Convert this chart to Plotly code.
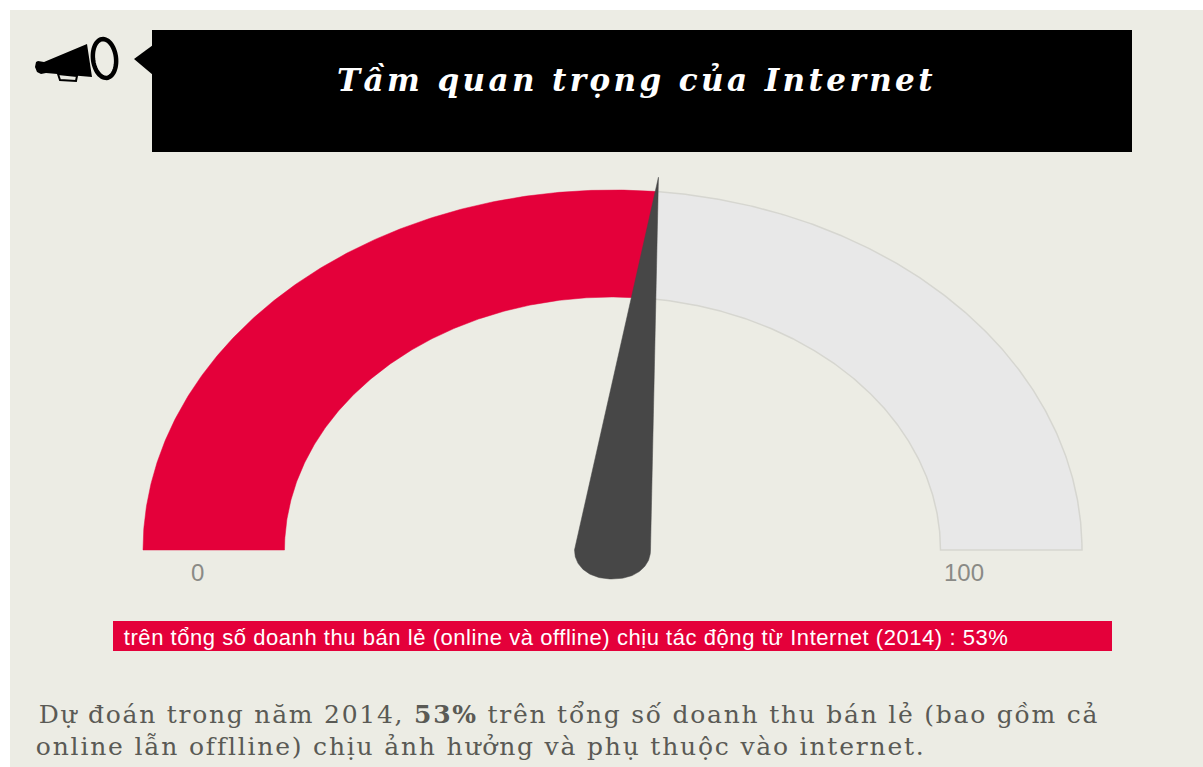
import json
import numpy as np
import plotly.graph_objects as go

W, H = 1203, 767

# ---- data ----
gauge_min = 0
gauge_max = 100
gauge_value = 53
tick_labels = ["0", "100"]
title_text = "Tầm quan trọng của Internet"
bar_text = "trên tổng số doanh thu bán lẻ (online và offline) chịu tác động từ Internet (2014) : 53%"
body_line_1 = "Dự đoán trong năm 2014, <b>53%</b> trên tổng số doanh thu bán lẻ (bao gồm cả"
body_line_2 = "online lẫn offlline) chịu ảnh hưởng và phụ thuộc vào internet."

# ---- geometry / style ----
PANEL = "#ECECE4"
RED = "#E4003A"
GREY = "#E8E8E8"
NEEDLE = "#474747"
CX, CY = 612.5, 550.0
RX, RY = 469.5, 360.0
INNER_X, INNER_Y = 328.0 / 469.5, 253.0 / 360.0


def px(x):
    return x / W


def py(y):
    return 1 - y / H


def angle(v):
    return np.pi * (1 - (v - gauge_min) / (gauge_max - gauge_min))


def band(v0, v1):
    t = np.linspace(angle(v0), angle(v1), 240)
    x = np.concatenate([np.cos(t), INNER_X * np.cos(t[::-1])])
    y = np.concatenate([np.sin(t), INNER_Y * np.sin(t[::-1])])
    return np.append(x, x[0]), np.append(y, y[0])


def needle(v):
    a = angle(v)
    t = np.linspace(np.pi, 2 * np.pi, 80)
    cx = np.sign(np.cos(t)) * np.abs(np.cos(t)) ** 0.92
    cy = np.sign(np.sin(t)) * np.abs(np.sin(t)) ** 0.95
    x = np.concatenate([38 / RX * cx, [1.04 * np.cos(a)]])
    y = np.concatenate([29 / RY * cy, [1.04 * np.sin(a)]])
    return np.append(x, x[0]), np.append(y, y[0])


fig = go.Figure()
x, y = band(gauge_value, gauge_max)
fig.add_trace(go.Scatter(x=x, y=y, mode="lines", fill="toself", fillcolor=GREY,
                         line=dict(color="#D6D6D0", width=1.5), hoverinfo="skip"))
x, y = band(gauge_min, gauge_value)
fig.add_trace(go.Scatter(x=x, y=y, mode="lines", fill="toself", fillcolor=RED,
                         line=dict(color=RED, width=0.5), hoverinfo="skip"))
x, y = needle(gauge_value)
fig.add_trace(go.Scatter(x=x, y=y, mode="lines", fill="toself", fillcolor=NEEDLE,
                         line=dict(color=NEEDLE, width=0.5), hoverinfo="skip"))


def poly(points, fill="black", line=None, width=0):
    d = "M " + " L ".join(f"{px(a):.5f},{py(b):.5f}" for a, b in points) + " Z"
    return dict(type="path", xref="paper", yref="paper", path=d, fillcolor=fill,
                line=dict(color=line or fill, width=width), layer="above")


def rect(x0, y0, x1, y1, fill):
    return dict(type="rect", xref="paper", yref="paper", x0=px(x0), x1=px(x1),
                y0=py(y0), y1=py(y1), fillcolor=fill, line=dict(width=0), layer="below")


def ell(cx, cy, rx, ry, rot):
    t = np.linspace(0, 2 * np.pi, 60)
    c, s = np.cos(rot), np.sin(rot)
    return [(cx + rx * np.cos(a) * c - ry * np.sin(a) * s,
             cy + rx * np.cos(a) * s + ry * np.sin(a) * c) for a in t]


shapes = [
    rect(10, 10, W, H, PANEL),
    rect(152, 30, 1132, 152, "black"),
    rect(113, 621, 1112, 651, RED),
    poly([(134, 59), (153, 45), (153, 75)]),
    # megaphone
    poly([(36, 62), (38, 61), (44, 62), (87, 44), (92, 77), (46, 73), (41, 74), (37, 72), (35, 67)]),
    poly([(58, 74), (60, 80), (76, 81), (77, 76)], fill=PANEL, line="black", width=2),
    poly(ell(104.5, 58.5, 11.5, 19.5, -0.12), fill=PANEL, line="black", width=4.5),
]

# text: (centre x, centre y, string, family, size, colour, letter-spacing in px)
texts = [
    (636.5, 80, f"<b><i>{title_text}</i></b>", "DejaVu Serif", 31, "white", 3.4),
    (197, 572, tick_labels[0], "Liberation Sans", 24, "#8A8A86", 0),
    (964, 572, tick_labels[1], "Liberation Sans", 24, "#8A8A86", 0),
    (565.5, 637, bar_text, "Liberation Sans", 22, "white", 0.55),
    (568.5, 714, body_line_1, "DejaVu Serif", 25, "#5A5A55", 1.75),
    (480, 746, body_line_2, "DejaVu Serif", 25, "#5A5A55", 1.8),
]
ann = [dict(x=px(a), y=py(b), text=s, xanchor="center", yanchor="middle", xref="paper", yref="paper",
            showarrow=False, borderpad=0, font=dict(family=f, size=z, color=c))
       for a, b, s, f, z, c, _ in texts]

fig.update_layout(
    width=W, height=H, margin=dict(l=0, r=0, t=0, b=0), showlegend=False,
    paper_bgcolor="white", plot_bgcolor="rgba(0,0,0,0)", shapes=shapes, annotations=ann,
    xaxis=dict(range=[-CX / RX, (W - CX) / RX], visible=False, fixedrange=True),
    yaxis=dict(range=[-(H - CY) / RY, CY / RY], visible=False, fixedrange=True),
)

spacing = json.dumps([t[6] for t in texts])
post = (
    "document.body.style.margin='0';document.documentElement.style.overflow='hidden';"
    f"var sp={spacing};"
    "document.querySelectorAll('.annotation-text').forEach(function(e,i){"
    "e.style.letterSpacing=sp[i]+'px';});"
)
fig.write_html("out.html", config={"displayModeBar": False}, post_script=post)
